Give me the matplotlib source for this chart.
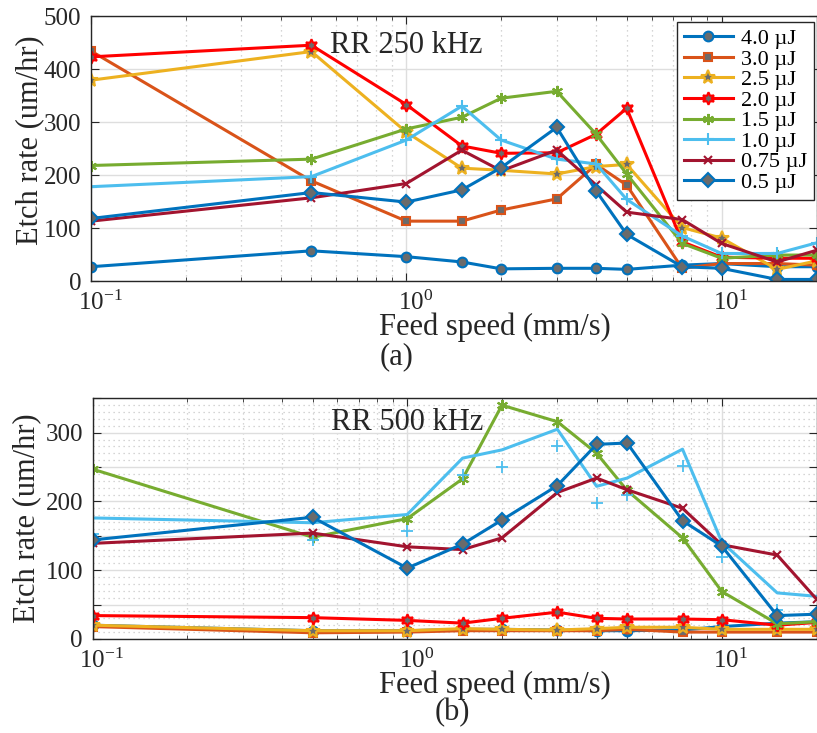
import numpy as np
import matplotlib
matplotlib.use('Agg')
import matplotlib.pyplot as plt
import matplotlib.transforms as mtrans
from matplotlib.ticker import LogLocator, MultipleLocator, FixedLocator, FixedFormatter

plt.rcParams['font.family'] = ['Liberation Serif', 'DejaVu Serif']
plt.rcParams['mathtext.fontset'] = 'stix'

# feed speed (mm/s)
speed = [0.1, 0.5, 1, 1.5, 2, 3, 4, 5, 7.5, 10, 15, 20]

labels = ['4.0 µJ', '3.0 µJ', '2.5 µJ', '2.0 µJ', '1.5 µJ', '1.0 µJ', '0.75 µJ', '0.5 µJ']

# (a) RR 250 kHz
a_40 = [27, 57, 46, 36, 23, 24, 24, 22, 30, 33, 27, 27]
a_30 = [434, 189, 113, 113, 134, 155, 220, 181, 24, 33, 33, 30]
a_25 = [379, 433, 281, 213, 209, 202, 216, 220, 101, 81, 22, 38]
a_20 = [423, 445, 333, 255, 241, 242, 277, 326, 74, 45, 43, 43]
a_15 = [218, 230, 287, 309, 345, 358, 277, 202, 71, 43, 49, 49]
a_10 = [178, 197, 266, 330, 266, 230, 221, 154, 85, 52, 52, 72]
a_075 = [113, 157, 184, 247, 208, 247, 181, 130, 116, 71, 36, 58]
a_05 = [118, 167, 149, 172, 214, 290, 170, 88, 27, 24, 3, 3]

# (b) RR 500 kHz
b_40 = [20, 12, 12, 14, 14, 13, 12, 12, 13, 18, 23, 25]
b_30 = [18, 9, 10, 12, 12, 12, 12, 14, 10, 10, 10, 10]
b_25 = [20, 12, 12, 15, 14, 13, 15, 17, 17, 14, 14, 14]
b_20 = [34, 31, 27, 23, 30, 39, 30, 29, 29, 28, 20, 24]
b_15 = [247, 148, 175, 233, 340, 316, 270, 216, 147, 69, 22, 25]
b_10_line = [176, 169, 181, 263, 275, 305, 222, 234, 276, 141, 67, 62]
b_10_pts = [152, 144, 157, 239, 250, 281, 198, 210, 251, 119, 42, 38]
b_075 = [139, 154, 134, 130, 147, 213, 234, 217, 190, 137, 122, 58]
b_05 = [144, 177, 103, 138, 173, 223, 283, 285, 172, 135, 34, 36]

colors = ['#0072BD', '#D95319', '#EDB120', '#FF0000', '#77AC30', '#4DBEEE', '#A2142F', '#0072BD']
markers = ['o', 's', '*', (6, 1, 0), (6, 2, 0), '+', 'x', 'D']
msizes = [7, 6, 10, 9, 8, 8, 6, 7]
face = '#6B6B6B'
axcol = '#262626'

fig = plt.figure(figsize=(8.17, 7.33), dpi=100)
ax1 = fig.add_axes([0.1114, 0.6166, 0.888, 0.3615])
ax2 = fig.add_axes([0.1134, 0.1283, 0.886, 0.3283])


def style(ax, minor_y):
    ax.set_xscale('log')
    ax.set_xlim(0.1, 20)
    for s in ax.spines.values():
        s.set_color(axcol)
        s.set_linewidth(1.0)
    ax.tick_params(which='both', direction='in', top=True, right=True, colors=axcol, labelsize=18)
    ax.tick_params(which='major', length=6, pad=7)
    ax.tick_params(which='minor', length=3)
    ax.xaxis.set_minor_locator(LogLocator(base=10, subs=np.arange(2, 10)))
    ax.grid(True, which='major', color='#DEDEDE', lw=1.0, ls='-')
    ax.grid(True, which='minor', axis='x', color='#C8C8C8', lw=0.9, ls=(0, (1, 3)))
    if minor_y:
        ax.grid(True, which='minor', axis='y', color='#C8C8C8', lw=0.9, ls=(0, (1, 3)))
    ax.set_axisbelow(True)
    # matlab puts the decade labels a bit right of the tick
    shift = mtrans.ScaledTranslation(9 / 100, 0, fig.dpi_scale_trans)
    for lab in ax.get_xticklabels():
        lab.set_transform(lab.get_transform() + shift)


series_a = [a_40, a_30, a_25, a_20, a_15, a_10, a_075, a_05]
for vals, c, m, ms, lab in zip(series_a, colors, markers, msizes, labels):
    ax1.plot(speed, vals, color=c, lw=2.2, marker=m, ms=ms, mfc=face, mec=c, mew=1.5, label=lab)

style(ax1, False)
ax1.set_ylim(0, 500)
ax1.yaxis.set_major_locator(MultipleLocator(100))
ax1.text(0.329, 0.89, 'RR 250 kHz', transform=ax1.transAxes, fontsize=22, va='center', ha='left', color=axcol)
leg = ax1.legend(loc='upper right', bbox_to_anchor=(0.997, 0.978), borderaxespad=0, fontsize=16,
                 fancybox=False, edgecolor=axcol, framealpha=1, labelspacing=0.0,
                 handlelength=2.2, handletextpad=0.4, borderpad=0.3)
leg.get_frame().set_linewidth(1.0)

series_b = [b_40, b_30, b_25, b_20, b_15, b_10_line, b_075, b_05]
for i, (vals, c, m, ms) in enumerate(zip(series_b, colors, markers, msizes)):
    if i == 5:
        ax2.plot(speed, vals, color=c, lw=2.2)
        ax2.plot(speed, b_10_pts, ls='none', marker=m, ms=ms, mec=c, mew=1.3)
    else:
        ax2.plot(speed, vals, color=c, lw=2.2, marker=m, ms=ms, mfc=face, mec=c, mew=1.5)

style(ax2, True)
ax2.set_ylim(0, 350)
ax2.yaxis.set_major_locator(FixedLocator([0, 50, 100, 150, 200, 250, 300, 350]))
ax2.yaxis.set_major_formatter(FixedFormatter(['0', '', '100', '', '200', '', '300', '']))
ax2.yaxis.set_minor_locator(MultipleLocator(10))
ax2.tick_params(axis='y', which='minor', length=0)
ax2.text(0.329, 0.90, 'RR 500 kHz', transform=ax2.transAxes, fontsize=22, va='center', ha='left', color=axcol)

fig.text(495 / 817, 1 - 327 / 733, 'Feed speed (mm/s)', fontsize=22, ha='center', va='center', color=axcol)
fig.text(397 / 817, 1 - 357 / 733, '(a)', fontsize=22, ha='center', va='center', color=axcol)
fig.text(30 / 817, 1 - 140 / 733, 'Etch rate (um/hr)', fontsize=22, ha='center', va='center', rotation=90, color=axcol)

fig.text(495 / 817, 1 - 685 / 733, 'Feed speed (mm/s)', fontsize=22, ha='center', va='center', color=axcol)
fig.text(452 / 817, 1 - 713 / 733, '(b)', fontsize=22, ha='center', va='center', color=axcol)
fig.text(27 / 817, 1 - 518 / 733, 'Etch rate (um/hr)', fontsize=22, ha='center', va='center', rotation=90, color=axcol)

fig.savefig('out.png', dpi=100)
